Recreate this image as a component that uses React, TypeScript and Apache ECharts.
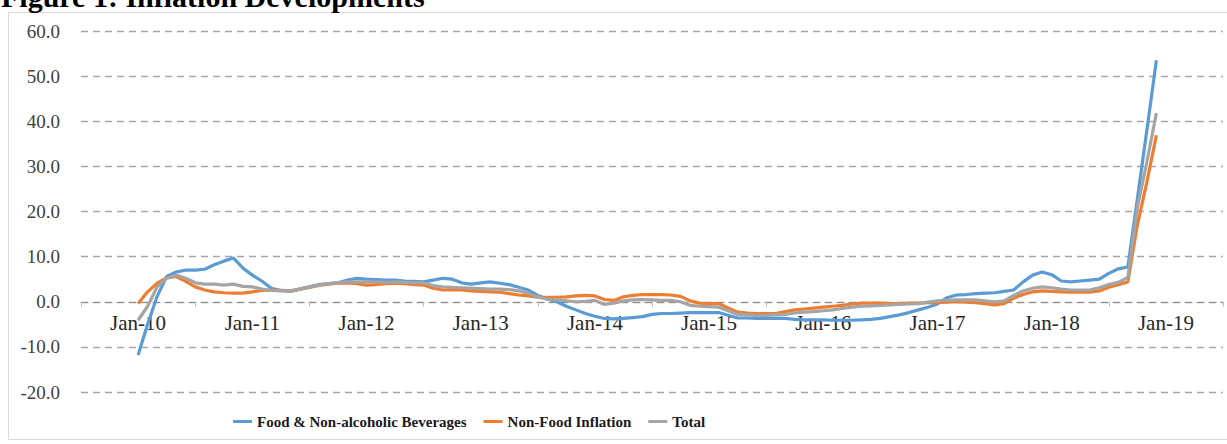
import React, { useEffect, useRef } from "react";
import * as echarts from "echarts";

// Month categories on the axis: Jul-09 .. Jul-19
const monthNames = ["Jan", "Feb", "Mar", "Apr", "May", "Jun", "Jul", "Aug", "Sep", "Oct", "Nov", "Dec"];
const categories: string[] = [];
for (let y = 2009; y <= 2019; y++) {
  for (let m = 0; m < 12; m++) {
    if (y === 2009 && m < 6) continue;
    if (y === 2019 && m > 6) continue;
    categories.push(monthNames[m] + "-" + String(y).slice(2));
  }
}
const padBefore = 6; // Jul-09 .. Dec-09 (no data)
const padAfter = 7; // Jan-19 .. Jul-19 (no data)

const yTicks = [-20, -10, 0, 10, 20, 30, 40, 50, 60];

// Monthly y/y inflation, Jan-10 .. Dec-18
const food2010 = [-11.8, -5.0, 1.2, 5.6, 6.6, 7.0, 7.0, 7.2, 8.2, 9.0, 9.7, 7.5];
const food2011 = [5.9, 4.6, 3.0, 2.5, 2.3, 2.8, 3.3, 3.8, 4.0, 4.2, 4.8, 5.2];
const food2012 = [5.0, 4.9, 4.8, 4.8, 4.6, 4.5, 4.4, 4.8, 5.2, 5.0, 4.2, 3.9];
const food2013 = [4.2, 4.4, 4.1, 3.8, 3.2, 2.6, 1.4, 0.6, 0.0, -1.0, -1.8, -2.6];
const food2014 = [-3.2, -3.7, -3.8, -3.7, -3.5, -3.3, -2.8, -2.6, -2.6, -2.5, -2.4, -2.4];
const food2015 = [-2.4, -2.4, -3.0, -3.6, -3.6, -3.7, -3.7, -3.7, -3.7, -3.9, -4.0, -4.0];
const food2016 = [-4.0, -4.1, -4.1, -4.1, -4.0, -3.9, -3.7, -3.3, -2.9, -2.4, -1.8, -1.2];
const food2017 = [-0.5, 0.9, 1.5, 1.6, 1.8, 1.9, 2.0, 2.3, 2.6, 4.4, 5.9, 6.6];
const food2018 = [6.0, 4.6, 4.4, 4.6, 4.8, 5.0, 6.3, 7.3, 7.7, 22.8, 38.0, 53.5];

const nonFood2010 = [-0.4, 2.2, 4.1, 5.3, 5.6, 4.5, 3.3, 2.6, 2.2, 2.0, 1.9, 1.9];
const nonFood2011 = [2.2, 2.5, 2.6, 2.5, 2.4, 2.8, 3.2, 3.6, 3.9, 4.1, 4.2, 4.0];
const nonFood2012 = [3.7, 3.8, 4.0, 4.1, 4.0, 3.8, 3.7, 3.0, 2.6, 2.6, 2.6, 2.4];
const nonFood2013 = [2.3, 2.2, 2.1, 1.8, 1.5, 1.3, 1.0, 1.0, 1.0, 1.1, 1.3, 1.4];
const nonFood2014 = [1.3, 0.5, 0.3, 1.1, 1.4, 1.6, 1.6, 1.6, 1.5, 1.2, 0.2, -0.3];
const nonFood2015 = [-0.4, -0.4, -1.4, -2.3, -2.5, -2.6, -2.6, -2.6, -2.2, -1.8, -1.6, -1.4];
const nonFood2016 = [-1.2, -1.0, -0.8, -0.5, -0.3, -0.3, -0.3, -0.4, -0.4, -0.3, -0.3, -0.2];
const nonFood2017 = [-0.2, -0.1, 0.0, -0.1, -0.2, -0.4, -0.7, -0.4, 0.8, 1.6, 2.2, 2.4];
const nonFood2018 = [2.3, 2.2, 2.1, 2.1, 2.1, 2.4, 3.2, 3.8, 4.4, 17.0, 26.5, 36.9];

const total2010 = [-4.1, -1.0, 3.3, 5.2, 5.9, 5.2, 4.2, 3.9, 3.9, 3.7, 3.9, 3.4];
const total2011 = [3.3, 2.8, 2.5, 2.4, 2.4, 2.8, 3.3, 3.7, 4.0, 4.2, 4.4, 4.4];
const total2012 = [4.4, 4.4, 4.3, 4.4, 4.3, 4.2, 4.2, 3.6, 3.3, 3.2, 3.1, 3.0];
const total2013 = [2.9, 2.8, 2.8, 2.7, 2.4, 1.9, 1.0, 0.6, 0.4, 0.2, 0.0, 0.1];
const total2014 = [0.3, -0.6, -0.3, 0.2, 0.4, 0.5, 0.4, 0.3, 0.3, 0.0, -0.8, -1.0];
const total2015 = [-1.1, -1.2, -2.0, -2.8, -2.9, -3.0, -3.0, -2.9, -2.8, -2.5, -2.3, -2.2];
const total2016 = [-2.0, -1.8, -1.5, -1.2, -1.0, -0.9, -0.8, -0.7, -0.6, -0.5, -0.4, -0.1];
const total2017 = [0.2, 0.3, 0.4, 0.4, 0.4, 0.2, 0.0, 0.2, 1.4, 2.4, 3.0, 3.3];
const total2018 = [3.1, 2.8, 2.6, 2.6, 2.6, 3.1, 3.8, 4.3, 5.4, 20.8, 31.0, 41.8];

const foodValues = [...food2010, ...food2011, ...food2012, ...food2013, ...food2014, ...food2015, ...food2016, ...food2017, ...food2018];
const nonFoodValues = [...nonFood2010, ...nonFood2011, ...nonFood2012, ...nonFood2013, ...nonFood2014, ...nonFood2015, ...nonFood2016, ...nonFood2017, ...nonFood2018];
const totalValues = [...total2010, ...total2011, ...total2012, ...total2013, ...total2014, ...total2015, ...total2016, ...total2017, ...total2018];

const pad = (vals: number[]) => [
  ...new Array(padBefore).fill(null),
  ...vals,
  ...new Array(padAfter).fill(null),
];

const seriesNames = ["Food & Non-alcoholic Beverages", "Non-Food Inflation", "Total"];
const seriesColors = ["#5B9BD5", "#ED7D31", "#A5A5A5"];

const GRID_TOP = 31;
const GRID_BOTTOM = 52;
const CHART_H = 444;

export default function App() {
  const ref = useRef<HTMLDivElement>(null);
  useEffect(() => {
    if (!ref.current) return;
    const chart = echarts.init(ref.current, undefined, { renderer: "svg" });
    const serif = "'Liberation Serif', 'Times New Roman', serif";
    const seriesData = [foodValues, nonFoodValues, totalValues];
    const yMin = yTicks[0];
    const yMax = yTicks[yTicks.length - 1];
    const plotH = CHART_H - GRID_TOP - GRID_BOTTOM;
    // shift the category axis up so that it sits on the zero line
    const zeroOffset = -plotH * (0 - yMin) / (yMax - yMin);
    chart.setOption({
      animation: false,
      backgroundColor: "#ffffff",
      graphic: [
        {
          type: "rect",
          silent: true,
          shape: { x: 8.5, y: 12.5, width: 1240, height: 427 },
          style: { fill: "none", stroke: "#d9d9d9", lineWidth: 1 },
          z: -1,
        },
        {
          type: "text",
          x: 1,
          y: -4,
          style: {
            text: "Figure 1: Inflation Developments",
            font: "bold 30px " + serif,
            fill: "#000000",
            verticalAlign: "middle",
            align: "left",
          },
        },
      ],
      grid: { left: 81, right: 4, top: GRID_TOP, bottom: GRID_BOTTOM, containLabel: false },
      legend: {
        data: seriesNames,
        left: 228,
        top: 409,
        icon: "rect",
        itemWidth: 19,
        itemHeight: 3,
        itemGap: 17,
        textStyle: { fontFamily: serif, fontWeight: "bold", fontSize: 15, color: "#1a1a1a" },
      },
      xAxis: {
        type: "category",
        data: categories,
        boundaryGap: false,
        offset: zeroOffset,
        axisLine: { onZero: false, lineStyle: { color: "#8c8c8c", width: 1.2, type: [7, 5] } },
        axisTick: {
          show: true,
          length: 5,
          interval: (_i: number, v: string) => v.startsWith("Jul"),
          lineStyle: { color: "#bfbfbf" },
        },
        axisLabel: {
          interval: (_i: number, v: string) => v.startsWith("Jan"),
          fontFamily: serif,
          fontSize: 21,
          color: "#262626",
          margin: 11,
        },
        splitLine: { show: false },
      },
      yAxis: {
        type: "value",
        min: yMin,
        max: yMax,
        interval: 10,
        axisLine: { show: false },
        axisTick: { show: false },
        axisLabel: {
          formatter: (v: number) => v.toFixed(1),
          fontFamily: serif,
          fontSize: 19,
          color: "#404040",
          margin: 21,
        },
        splitLine: { lineStyle: { color: "#a6a6a6", width: 1.3, type: [7, 5] } },
      },
      series: seriesNames.map((name, k) => ({
        name,
        type: "line",
        data: pad(seriesData[k]),
        showSymbol: false,
        symbol: "none",
        color: seriesColors[k],
        lineStyle: { width: 3.2, color: seriesColors[k] },
        z: 2 + k,
      })),
    });
    return () => chart.dispose();
  }, []);
  return (
    <div
      ref={ref}
      style={{ position: "absolute", left: 0, top: 0, width: 1227, height: 444 }}
    />
  );
}
